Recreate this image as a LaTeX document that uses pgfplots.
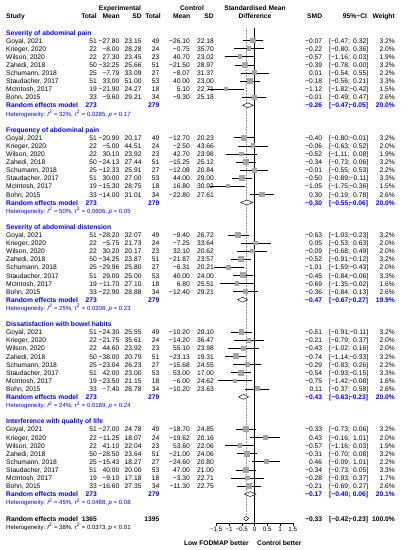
\documentclass[border=0pt]{standalone}
\usepackage{fontspec}
\setmainfont{Liberation Sans}
\usepackage{pgfplots}
\pgfplotsset{compat=1.18}
\usepackage{pgfplotstable}
\definecolor{refblue}{RGB}{0,0,255}
\definecolor{sqgray}{RGB}{165,165,165}

\newcommand\ftn{\fontsize{6.7}{8}\selectfont}
\newcommand\fts{\fontsize{6.0}{7}\selectfont}
% print a number typed with "-" using a real minus sign
\def\sgnaux#1#2\relax{\ifx-#1−#2\else#1#2\fi}
\newcommand\sgn[1]{\edef\sgntmp{#1}\expandafter\sgnaux\sgntmp\relax}

% grey study square, colour fixed inside the mark
\pgfdeclareplotmark{gsq}{%
  \pgfpathrectangle{\pgfpoint{-\pgfplotmarksize}{-\pgfplotmarksize}}%
    {\pgfpoint{2\pgfplotmarksize}{2\pgfplotmarksize}}%
  \pgfsetfillcolor{sqgray}\pgfusepathqfill}

\pgfplotsset{
  col/.style={only marks, mark=none, forget plot, black,
    point meta=explicit symbolic,
    nodes near coords={\sgn{\pgfplotspointmeta}},
    nodes near coords style={anchor=#1, inner sep=0pt, font=\ftn}},
}

% r = row (8.1pt each, counted from the top)
\pgfplotstableread{
r name n1 m1 s1 n2 m2 s2 smd lo hi w
5 {Goyal, 2021} 51 -27.80 23.15 49 -26.10 22.18 -0.07 -0.47 0.32 3.2
6 {Krieger, 2020} 22 -8.00 28.28 24 -0.75 35.70 -0.22 -0.80 0.36 2.0
7 {Wilson, 2020} 22 27.30 23.45 23 40.70 23.02 -0.57 -1.16 0.03 1.9
8 {Zahedi, 2018} 50 -32.25 25.66 51 -21.50 28.97 -0.39 -0.78 0.00 3.2
9 {Schumann, 2018} 25 -7.79 33.09 27 -8.07 31.37 0.01 -0.54 0.55 2.2
10 {Staudacher, 2017} 51 33.00 51.00 53 40.00 23.00 -0.18 -0.56 0.21 3.3
11 {McIntosh, 2017} 19 -21.90 24.27 18 5.10 22.71 -1.12 -1.82 -0.42 1.5
12 {Bohn, 2015} 33 -9.60 29.21 34 -9.30 25.18 -0.01 -0.49 0.47 2.6
17 {Goyal, 2021} 51 -20.90 20.17 49 -12.70 20.23 -0.40 -0.80 -0.01 3.2
18 {Krieger, 2020} 22 -5.00 44.51 24 -2.50 43.66 -0.06 -0.63 0.52 2.0
19 {Wilson, 2020} 22 30.10 23.92 23 42.70 23.98 -0.52 -1.11 0.08 1.9
20 {Zahedi, 2018} 50 -24.13 27.44 51 -15.25 25.12 -0.34 -0.73 0.06 3.2
21 {Schumann, 2018} 25 -12.33 25.91 27 -12.08 20.84 -0.01 -0.55 0.53 2.2
22 {Staudacher, 2017} 51 30.00 27.00 53 44.00 29.00 -0.50 -0.89 -0.11 3.3
23 {McIntosh, 2017} 19 -15.30 28.75 18 16.80 30.92 -1.05 -1.75 -0.36 1.5
24 {Bohn, 2015} 33 -14.00 31.01 34 -22.80 27.61 0.30 -0.19 0.78 2.6
29 {Goyal, 2021} 51 -28.20 32.07 49 -9.40 26.72 -0.63 -1.03 -0.23 3.2
30 {Krieger, 2020} 22 -5.75 21.73 24 -7.25 33.64 0.05 -0.53 0.63 2.0
31 {Wilson, 2020} 22 30.20 20.17 23 32.10 20.62 -0.09 -0.68 0.49 2.0
32 {Zahedi, 2018} 50 -34.25 23.87 51 -21.87 23.57 -0.52 -0.91 -0.12 3.2
33 {Schumann, 2018} 25 -29.96 25.80 27 -6.31 20.21 -1.01 -1.59 -0.43 2.0
34 {Staudacher, 2017} 51 29.00 25.00 53 40.00 24.00 -0.45 -0.84 -0.06 3.3
35 {McIntosh, 2017} 19 -11.70 27.10 18 6.80 25.51 -0.69 -1.35 -0.02 1.6
36 {Bohn, 2015} 33 -22.90 28.88 34 -12.40 29.21 -0.36 -0.84 0.13 2.6
41 {Goyal, 2021} 51 -24.30 25.55 49 -10.20 29.10 -0.51 -0.91 -0.11 3.2
42 {Krieger, 2020} 22 -21.75 35.61 24 -14.20 36.47 -0.21 -0.79 0.37 2.0
43 {Wilson, 2020} 22 44.60 23.92 23 55.10 23.98 -0.43 -1.02 0.16 2.0
44 {Zahedi, 2018} 50 -38.00 20.79 51 -23.13 19.31 -0.74 -1.14 -0.33 3.2
45 {Schumann, 2018} 25 -23.04 26.23 27 -15.68 24.55 -0.29 -0.83 0.26 2.2
46 {Staudacher, 2017} 51 42.00 23.00 53 53.00 17.00 -0.54 -0.93 -0.15 3.3
47 {McIntosh, 2017} 19 -23.50 21.15 18 -6.00 24.62 -0.75 -1.42 -0.08 1.6
48 {Bohn, 2015} 33 -7.40 28.78 34 -10.20 23.63 0.11 -0.37 0.58 2.6
53 {Goyal, 2021} 51 -27.00 24.78 49 -18.70 24.85 -0.33 -0.73 0.06 3.2
54 {Krieger, 2020} 22 -11.25 18.07 24 -19.62 20.16 0.43 -0.16 1.01 2.0
55 {Wilson, 2020} 22 41.10 22.04 23 53.60 22.06 -0.57 -1.16 0.03 1.9
56 {Zahedi, 2018} 50 -28.50 23.64 51 -21.00 24.06 -0.31 -0.70 0.08 3.2
57 {Schumann, 2018} 25 -15.43 18.27 27 -24.60 20.80 0.46 -0.09 1.01 2.2
58 {Staudacher, 2017} 51 40.00 20.00 53 47.00 21.00 -0.34 -0.73 0.05 3.3
59 {McIntosh, 2017} 19 -9.10 17.18 18 -3.30 22.71 -0.28 -0.93 0.37 1.7
60 {Bohn, 2015} 33 -16.60 27.35 34 -11.30 22.75 -0.21 -0.69 0.27 2.6
}\studies

\pgfplotstableread{
r name n1 n2 smd lo hi w
13 {Random effects model} 273 279 -0.26 -0.47 -0.05 20.0
25 {Random effects model} 273 279 -0.30 -0.55 -0.06 20.0
37 {Random effects model} 273 279 -0.47 -0.67 -0.27 19.9
49 {Random effects model} 273 279 -0.43 -0.63 -0.23 20.0
61 {Random effects model} 273 279 -0.17 -0.40 0.06 20.1
}\remodel

\begin{document}
\begin{tikzpicture}
\begin{axis}[
  x=25.5pt, y=8.1pt,
  xmin=-1.5, xmax=1.5, ymin=-64.55, ymax=-3.5,
  axis x line=bottom, axis y line=none,
  axis line style={black, line width=0.5pt, -},
  xtick={-1.5,-1,-0.5,0,0.5,1,1.5},
  xticklabels={−1.5,−1,−0.5,0,0.5,1,1.5},
  xticklabel style={font=\fontsize{6.3}{7}\selectfont, inner sep=1pt},
  ytick=\empty,
  tick align=outside, major tick length=3pt,
  tick style={black, line width=0.5pt},
  clip=false,
]
% reference lines
\addplot[black, line width=0.55pt, forget plot] coordinates {(0,-3.5) (0,-64.55)};
\addplot[gray!80, densely dotted, line width=0.5pt, forget plot] coordinates {(-0.33,-3.5) (-0.33,-64.55)};

% study squares (side ~ sqrt(weight)), then confidence intervals
\addplot[scatter, only marks, mark=gsq, forget plot,
  visualization depends on={1.65*sqrt(\thisrow{w}) \as \msz},
  scatter/@pre marker code/.code={\pgfsetplotmarksize{\msz pt}},
  scatter/@post marker code/.code={}]
  table[x=smd, y expr=-\thisrow{r}] {\studies};
\addplot[draw=none, mark=none, forget plot,
  error bars/.cd, x dir=both, x explicit, error mark=none,
  error bar style={draw=black, line width=0.45pt}]
  table[x=smd, y expr=-\thisrow{r},
    x error plus expr=\thisrow{hi}-\thisrow{smd},
    x error minus expr=\thisrow{smd}-\thisrow{lo}] {\studies};

% pooled estimates
\addplot[fill=white, draw=black, line width=0.45pt] coordinates {(-0.47,-13) (-0.26,-12.7) (-0.05,-13) (-0.26,-13.3) (-0.47,-13)};
\addplot[fill=white, draw=black, line width=0.45pt] coordinates {(-0.55,-25) (-0.30,-24.7) (-0.06,-25) (-0.30,-25.3) (-0.55,-25)};
\addplot[fill=white, draw=black, line width=0.45pt] coordinates {(-0.67,-37) (-0.47,-36.7) (-0.27,-37) (-0.47,-37.3) (-0.67,-37)};
\addplot[fill=white, draw=black, line width=0.45pt] coordinates {(-0.63,-49) (-0.43,-48.7) (-0.23,-49) (-0.43,-49.3) (-0.63,-49)};
\addplot[fill=white, draw=black, line width=0.45pt] coordinates {(-0.40,-61) (-0.17,-60.7) (0.06,-61) (-0.17,-61.3) (-0.40,-61)};
\addplot[fill=white, draw=black, line width=0.45pt] coordinates {(-0.42,-64) (-0.33,-63.7) (-0.23,-64) (-0.33,-64.3) (-0.42,-64)};

% study columns
\addplot[col=mid west, nodes near coords={\pgfplotspointmeta}] table[x expr=-9.745, y expr=-\thisrow{r}, meta=name] {\studies};
\addplot[col=mid east] table[x expr=-6.176, y expr=-\thisrow{r}, meta=n1] {\studies};
\addplot[col=mid east] table[x expr=-5.294, y expr=-\thisrow{r}, meta=m1] {\studies};
\addplot[col=mid east] table[x expr=-4.424, y expr=-\thisrow{r}, meta=s1] {\studies};
\addplot[col=mid east] table[x expr=-3.725, y expr=-\thisrow{r}, meta=n2] {\studies};
\addplot[col=mid east] table[x expr=-2.529, y expr=-\thisrow{r}, meta=m2] {\studies};
\addplot[col=mid east] table[x expr=-1.588, y expr=-\thisrow{r}, meta=s2] {\studies};
\addplot[col=mid east] table[x expr=2.659, y expr=-\thisrow{r}, meta=smd] {\studies};
\addplot[col=mid west, nodes near coords={[\sgn{\pgfplotspointmeta};}] table[x expr=2.922, y expr=-\thisrow{r}, meta=lo] {\studies};
\addplot[col=mid east, nodes near coords={\sgn{\pgfplotspointmeta}]}] table[x expr=4.463, y expr=-\thisrow{r}, meta=hi] {\studies};
\addplot[col=mid east, nodes near coords={\pgfplotspointmeta\%}] table[x expr=5.51, y expr=-\thisrow{r}, meta=w] {\studies};

% random effects rows of each subgroup
\pgfplotsset{rb/.style={nodes near coords style={text=refblue, font=\ftn\bfseries}}}
\addplot[col=mid west, rb, nodes near coords={\pgfplotspointmeta}] table[x expr=-9.745, y expr=-\thisrow{r}, meta=name] {\remodel};
\addplot[col=mid east, rb] table[x expr=-6.176, y expr=-\thisrow{r}, meta=n1] {\remodel};
\addplot[col=mid east, rb] table[x expr=-3.725, y expr=-\thisrow{r}, meta=n2] {\remodel};
\addplot[col=mid east, rb] table[x expr=2.659, y expr=-\thisrow{r}, meta=smd] {\remodel};
\addplot[col=mid west, rb, nodes near coords={[\sgn{\pgfplotspointmeta};}] table[x expr=2.922, y expr=-\thisrow{r}, meta=lo] {\remodel};
\addplot[col=mid east, rb, nodes near coords={\sgn{\pgfplotspointmeta}]}] table[x expr=4.463, y expr=-\thisrow{r}, meta=hi] {\remodel};
\addplot[col=mid east, rb, nodes near coords={\pgfplotspointmeta\%}] table[x expr=5.51, y expr=-\thisrow{r}, meta=w] {\remodel};

% header
\begin{scope}[every node/.style={inner sep=0pt, font=\ftn\bfseries}]
\node[anchor=mid] at (axis cs:-5.275,-1) {Experimental};
\node[anchor=mid] at (axis cs:-2.451,-1) {Control};
\node[anchor=mid] at (axis cs:0.02,-1) {Standardised Mean};
\node[anchor=mid] at (axis cs:0.02,-2) {Difference};
\node[anchor=mid west] at (axis cs:-9.745,-2) {Study};
\node[anchor=mid east] at (axis cs:-6.176,-2) {Total};
\node[anchor=mid east] at (axis cs:-5.275,-2) {Mean};
\node[anchor=mid east] at (axis cs:-4.412,-2) {SD};
\node[anchor=mid east] at (axis cs:-3.667,-2) {Total};
\node[anchor=mid east] at (axis cs:-2.510,-2) {Mean};
\node[anchor=mid east] at (axis cs:-1.588,-2) {SD};
\node[anchor=mid east] at (axis cs:2.659,-2) {SMD};
\node[anchor=mid east] at (axis cs:4.42,-2) {95\%−CI};
\node[anchor=mid east] at (axis cs:5.51,-2) {Weight};
% subgroup titles
\node[anchor=mid west, text=refblue] at (axis cs:-9.745,-4) {Severity of abdominal pain};
\node[anchor=mid west, text=refblue] at (axis cs:-9.745,-16) {Frequency of abdominal pain};
\node[anchor=mid west, text=refblue] at (axis cs:-9.745,-28) {Severity of abdominal distension};
\node[anchor=mid west, text=refblue] at (axis cs:-9.745,-40) {Dissatisfaction with bowel habits};
\node[anchor=mid west, text=refblue] at (axis cs:-9.745,-52) {Interference with quality of life};
% overall
\node[anchor=mid west] at (axis cs:-9.745,-64) {Random effects model};
\node[anchor=mid east] at (axis cs:-6.176,-64) {1365};
\node[anchor=mid east] at (axis cs:-3.725,-64) {1395};
\node[anchor=mid east] at (axis cs:2.659,-64) {−0.33};
\node[anchor=mid west] at (axis cs:2.922,-64) {[−0.42;};
\node[anchor=mid east] at (axis cs:4.463,-64) {−0.23]};
\node[anchor=mid east] at (axis cs:5.51,-64) {100.0\%};
\node[anchor=mid east] at (axis cs:-0.216,-67.04) {Low FODMAP better};
\node[anchor=mid west] at (axis cs:0.098,-67.04) {Control better};
\end{scope}
% heterogeneity
\begin{scope}[every node/.style={inner sep=0pt, font=\fts, anchor=mid west}]
\node[text=refblue] at (axis cs:-9.745,-14) {Heterogeneity: \textit{I}\textsuperscript{2} = 32\%, τ\textsuperscript{2} = 0.0285, \textit{p} = 0.17};
\node[text=refblue] at (axis cs:-9.745,-26) {Heterogeneity: \textit{I}\textsuperscript{2} = 50\%, τ\textsuperscript{2} = 0.0606, \textit{p} = 0.05};
\node[text=refblue] at (axis cs:-9.745,-38) {Heterogeneity: \textit{I}\textsuperscript{2} = 25\%, τ\textsuperscript{2} = 0.0208, \textit{p} = 0.23};
\node[text=refblue] at (axis cs:-9.745,-50) {Heterogeneity: \textit{I}\textsuperscript{2} = 24\%, τ\textsuperscript{2} = 0.0189, \textit{p} = 0.24};
\node[text=refblue] at (axis cs:-9.745,-62) {Heterogeneity: \textit{I}\textsuperscript{2} = 45\%, τ\textsuperscript{2} = 0.0488, \textit{p} = 0.08};
\node at (axis cs:-9.745,-65) {Heterogeneity: \textit{I}\textsuperscript{2} = 38\%, τ\textsuperscript{2} = 0.0373, \textit{p} < 0.01};
\end{scope}
\coordinate (bbtl) at (axis cs:-9.980,0);
\coordinate (bbbr) at (axis cs:5.706,-67.90);
\end{axis}
\pgfresetboundingbox
\useasboundingbox (bbtl) rectangle (bbbr);
\end{tikzpicture}
\end{document}
